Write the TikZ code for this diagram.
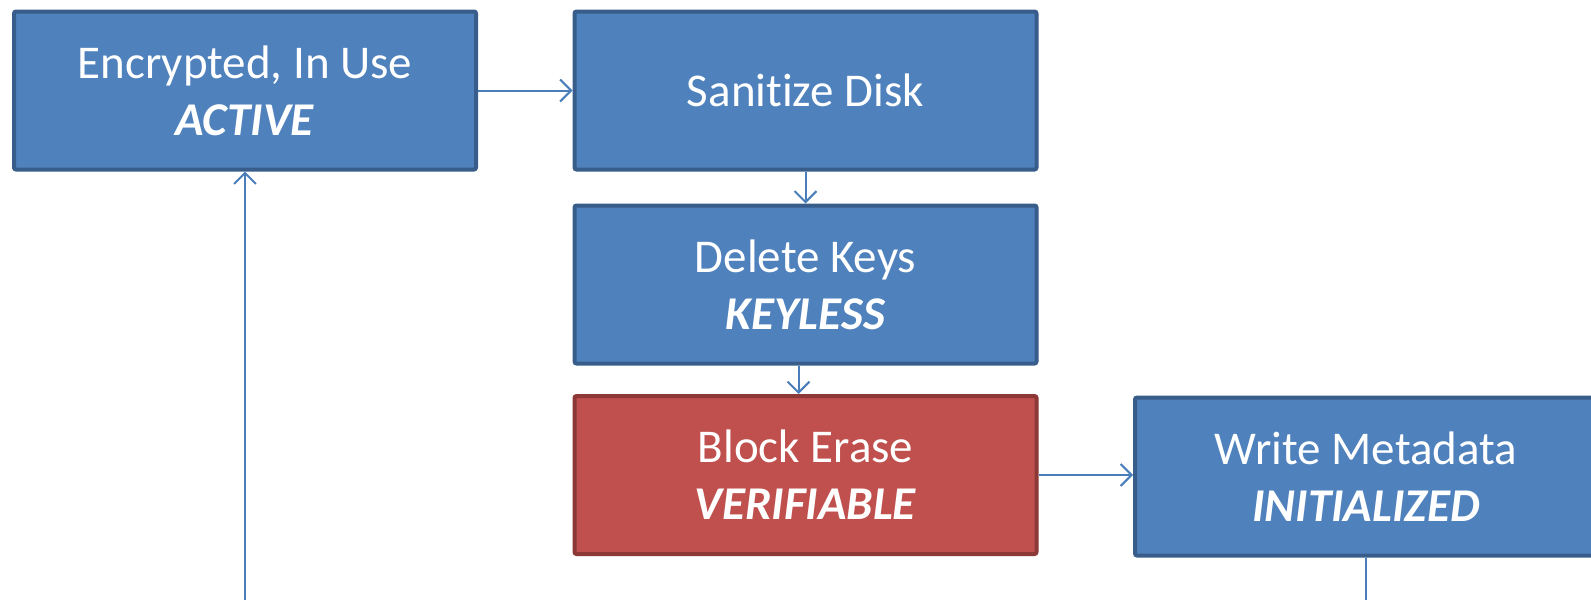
\documentclass[tikz,border=0pt]{standalone}
\usepackage{fontspec}
\setmainfont[Ligatures=NoCommon]{Carlito}
\usetikzlibrary{arrows.meta}
\definecolor{boxblue}{HTML}{4F81BD}
\definecolor{edgeblue}{HTML}{385D8A}
\definecolor{boxred}{HTML}{C0504D}
\definecolor{edgered}{HTML}{8C3836}
\definecolor{linkblue}{HTML}{4A7EBB}
\tikzset{
  statebox/.style={draw=edgeblue, fill=boxblue, line width=4pt, rounded corners=2pt,
    minimum width=462pt, minimum height=158pt, inner sep=0pt, align=center,
    text=white, font=\fontsize{47}{57}\selectfont},
  redbox/.style={statebox, draw=edgered, fill=boxred},
  link/.style={draw=linkblue, line width=2pt, -{Straight Barb[length=11pt,width=22pt,line width=2pt]}},
  plainlink/.style={draw=linkblue, line width=2pt}
}
\begin{document}
\begin{tikzpicture}[x=1pt,y=-1pt]
\useasboundingbox (0,0) rectangle (1591,600);
\node[statebox] (active) at (245,90.5) {Encrypted, In Use\\\textbf{\textit{ACTIVE}}};
\node[statebox] (sanitize) at (805.5,90.5) {Sanitize Disk};
\node[statebox] (keyless) at (805.5,284.5) {Delete Keys\\\textbf{\textit{KEYLESS}}};
\node[redbox] (verifiable) at (805.5,475) {Block Erase\\\textbf{\textit{VERIFIABLE}}};
\node[statebox] (initialized) at (1366,476.5) {Write Metadata\\\textbf{\textit{INITIALIZED}}};
\coordinate (bottomin) at (245,600);
\coordinate (bottomout) at (1366,600);
\draw[link] (active.east) -- (sanitize.west);
\draw[link] (sanitize.south) -- (keyless.north);
\draw[link] ([xshift=-7pt]keyless.south) -- ([xshift=-7pt]verifiable.north);
\draw[link] (verifiable.east) -- (verifiable.east -| initialized.west);
\draw[link] (bottomin) -- (active.south);
\draw[plainlink] (initialized.south) -- (bottomout);
\end{tikzpicture}
\end{document}
